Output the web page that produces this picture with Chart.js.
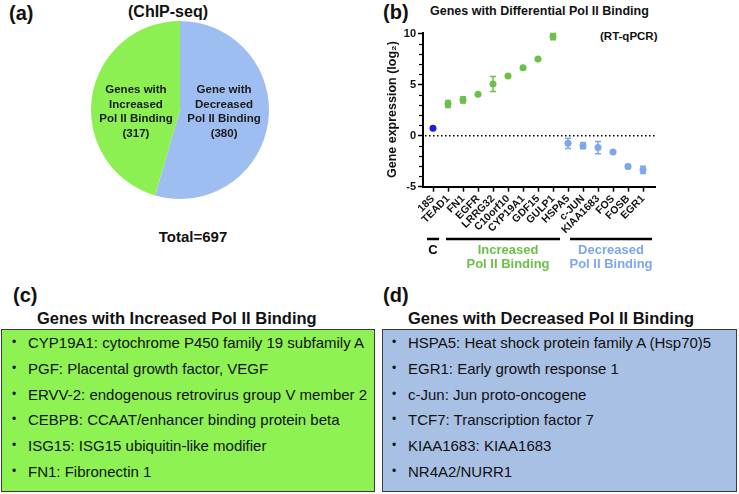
<!DOCTYPE html>
<html>
<head>
<meta charset="utf-8">
<script src="https://cdn.jsdelivr.net/npm/chart.js@4"></script>
<style>
body { margin:0; background:#fff; font-family:"Liberation Sans", Arial, sans-serif; color:#111; }
#page { position:relative; width:739px; height:494px; overflow:hidden; }
.abs { position:absolute; white-space:nowrap; line-height:1; font-weight:bold; }
.plabel { font-size:20px; }
.box { position:absolute; top:329px; height:163px; border:1px solid #3a3a3a; box-sizing:border-box; padding-top:0; }
.box ul { list-style:none; margin:0; padding:0; }
.box li { height:25.8px; line-height:25.8px; font-size:15px; position:relative; white-space:nowrap; }
.box li:before { content:"\2022"; position:absolute; left:-16px; font-size:12px; }
</style>
</head>
<body>
<div id="page">
  <div class="abs plabel" style="left:9px; top:3px;">(a)</div>
  <div class="abs" style="left:168px; top:4px; font-size:16px; transform:translateX(-50%);">(ChIP-seq)</div>
  <canvas id="pie" width="178" height="178" style="position:absolute; left:91px; top:21px;"></canvas>
  <div class="abs" style="left:193px; top:229px; font-size:15px; transform:translateX(-50%);">Total=697</div>

  <div class="abs plabel" style="left:383px; top:2px;">(b)</div>
  <div class="abs" style="left:430px; top:5px; font-size:12.5px;">Genes with Differential Pol II Binding</div>
  <div class="abs" style="left:600px; top:31px; font-size:11.5px;">(RT-qPCR)</div>
  <canvas id="expr" width="369" height="258" style="position:absolute; left:370px; top:22px;"></canvas>

  <div class="abs plabel" style="left:13px; top:285px;">(c)</div>
  <div class="abs" style="left:37px; top:310px; font-size:16.5px;">Genes with Increased Pol II Binding</div>
  <div class="box" style="left:1px; width:374px; background:#8ef252;">
    <ul id="incList" style="padding-left:26px;"></ul>
  </div>

  <div class="abs plabel" style="left:383px; top:285px;">(d)</div>
  <div class="abs" style="left:408px; top:310px; font-size:16.5px;">Genes with Decreased Pol II Binding</div>
  <div class="box" style="left:382px; width:355px; background:#a8c0e4;">
    <ul id="decList" style="padding-left:25px;"></ul>
  </div>
</div>

<script>
const FONT = '"Liberation Sans", "DejaVu Sans", Arial, sans-serif';

// panel (a) - ChIP-seq counts
const pieCounts = [380, 317];
const pieNames = [['Gene with', 'Decreased', 'Pol II Binding'], ['Genes with', 'Increased', 'Pol II Binding']];
const pieColors = ['#9ebdf1', '#8df052'];

// panel (b) - RT-qPCR log2 expression
const genes = ['18S', 'TEAD1', 'FN1', 'EGFR', 'LRRG32', 'C10orf10', 'CYP19A1', 'GDF15', 'GULP1',
               'HSPA5', 'c-JUN', 'KIAA1683', 'FOS', 'FOSB', 'EGR1'];
const expr    = [0.72, 3.1, 3.5, 4.05, 5.05, 5.84, 6.65, 7.5, 9.7, -0.75, -0.98, -1.17, -1.6, -3.03, -3.35];
const exprErr = [0, 0.35, 0.3, 0.1, 0.73, 0.1, 0.05, 0.05, 0.3, 0.5, 0.3, 0.6, 0.1, 0.2, 0.35];
const yTicks = [-5, 0, 5, 10];
const groupNames = [['C'], ['Increased', 'Pol II Binding'], ['Decreased', 'Pol II Binding']];
const groupFirst = [0, 1, 9];
const groupLast  = [0, 8, 14];
const groupPointColors = ['#1c1ce0', '#6cc04a', '#7ea6ea'];
const groupTextColors  = ['#000', '#6cc04a', '#7ea6ea'];

// panels (c) and (d)
const incGenes = ['CYP19A1: cytochrome P450 family 19 subfamily A', 'PGF: Placental growth factor, VEGF',
  'ERVV-2: endogenous retrovirus group V member 2', 'CEBPB: CCAAT/enhancer binding protein beta',
  'ISG15: ISG15 ubiquitin-like modifier', 'FN1: Fibronectin 1'];
const decGenes = ['HSPA5: Heat shock protein family A (Hsp70)5', 'EGR1: Early growth response 1',
  'c-Jun: Jun proto-oncogene', 'TCF7: Transcription factor 7', 'KIAA1683: KIAA1683', 'NR4A2/NURR1'];

function fillList(id, items) {
  const ul = document.getElementById(id);
  items.forEach(t => { const li = document.createElement('li'); li.textContent = t; ul.appendChild(li); });
}
fillList('incList', incGenes);
fillList('decList', decGenes);

// text inside pie slices
const pieText = {
  id: 'pieText',
  afterDatasetsDraw(chart) {
    const ctx = chart.ctx;
    chart.getDatasetMeta(0).data.forEach((arc, i) => {
      const p = arc.getProps(['x', 'y', 'startAngle', 'endAngle', 'outerRadius'], true);
      const mid = (p.startAngle + p.endAngle) / 2;
      const tx = p.x + Math.cos(mid) * p.outerRadius * 0.5;
      const lines = pieNames[i].concat('(' + pieCounts[i] + ')');
      ctx.save();
      ctx.font = 'bold 11.5px ' + FONT;
      ctx.textAlign = 'center';
      ctx.textBaseline = 'middle';
      ctx.fillStyle = '#1a1a1a';
      lines.forEach((l, k) => ctx.fillText(l, tx, p.y + 2 + (k - 1.5) * 14.5));
      ctx.restore();
    });
  }
};

new Chart(document.getElementById('pie'), {
  type: 'pie',
  data: { labels: pieNames.map(n => n.join(' ')), datasets: [{ data: pieCounts, backgroundColor: pieColors, borderWidth: 0 }] },
  options: {
    responsive: false, animation: false,
    plugins: { legend: { display: false }, tooltip: { enabled: false } }
  },
  plugins: [pieText]
});

// error bars, zero line, minor ticks, group bars
const exprExtras = {
  id: 'exprExtras',
  beforeDatasetsDraw(chart) {
    const { ctx, scales: { x, y } } = chart;
    ctx.save();
    // dotted zero line
    ctx.strokeStyle = '#000';
    ctx.lineWidth = 1.5;
    ctx.setLineDash([1.5, 2.5]);
    ctx.beginPath();
    ctx.moveTo(x.left + 2, y.getPixelForValue(0));
    ctx.lineTo(x.right, y.getPixelForValue(0));
    ctx.stroke();
    ctx.setLineDash([]);
    // error bars
    chart.data.datasets.forEach(ds => {
      ctx.strokeStyle = ds.backgroundColor;
      ctx.lineWidth = 1.5;
      ds.data.forEach(p => {
        if (!p.e) return;
        const px = x.getPixelForValue(p.x);
        const top = y.getPixelForValue(p.y + p.e), bot = y.getPixelForValue(p.y - p.e);
        ctx.beginPath();
        ctx.moveTo(px, top); ctx.lineTo(px, bot);
        ctx.moveTo(px - 3, top); ctx.lineTo(px + 3, top);
        ctx.moveTo(px - 3, bot); ctx.lineTo(px + 3, bot);
        ctx.stroke();
      });
    });
    ctx.restore();
  },
  afterDraw(chart) {
    const { ctx, scales: { x, y } } = chart;
    ctx.save();
    // minor y ticks
    ctx.strokeStyle = '#000';
    ctx.lineWidth = 1.2;
    for (let v = -5; v <= 10; v++) {
      if (v % 5 === 0) continue;
      const py = Math.round(y.getPixelForValue(v)) + 0.5;
      ctx.beginPath(); ctx.moveTo(x.left - 4, py); ctx.lineTo(x.left, py); ctx.stroke();
    }
    // group bars and labels
    const barY = 217;
    groupNames.forEach((lines, g) => {
      const pad0 = g === 0 ? 6 : (g === 1 ? 2 : -2);
      const pad1 = g === 0 ? 6 : (g === 1 ? 7 : 9);
      const x0 = x.getPixelForValue(groupFirst[g]) - pad0;
      const x1 = x.getPixelForValue(groupLast[g]) + pad1;
      ctx.strokeStyle = '#000';
      ctx.lineWidth = 2.5;
      ctx.beginPath(); ctx.moveTo(x0, barY); ctx.lineTo(x1, barY); ctx.stroke();
      ctx.fillStyle = groupTextColors[g];
      ctx.font = 'bold 13px ' + FONT;
      ctx.textAlign = 'center';
      ctx.textBaseline = 'middle';
      const cx = g === 0 ? x.getPixelForValue(0) : (x0 + x1) / 2 + (g === 1 ? 5 : 0);
      lines.forEach((l, k) => ctx.fillText(l, cx, barY + 11 + k * 14));
    });
    ctx.restore();
  }
};

const datasets = groupNames.map((n, g) => {
  const pts = [];
  for (let i = groupFirst[g]; i <= groupLast[g]; i++) pts.push({ x: i, y: expr[i], e: exprErr[i] });
  return { data: pts, backgroundColor: groupPointColors[g], borderColor: groupPointColors[g],
           pointRadius: 3.5, pointBorderWidth: 0, showLine: false };
});

new Chart(document.getElementById('expr'), {
  type: 'scatter',
  data: { datasets },
  options: {
    responsive: false, animation: false,
    layout: { padding: { top: 10.5, right: 84, left: 0, bottom: 0 } },
    plugins: { legend: { display: false }, tooltip: { enabled: false } },
    scales: {
      x: {
        type: 'linear', min: -0.667, max: 14.8,
        afterBuildTicks: s => { s.ticks = genes.map((g, i) => ({ value: i })); },
        afterFit: s => { s.height = 93.3; },
        ticks: { callback: v => genes[v], minRotation: 45, maxRotation: 45, autoSkip: false, padding: 1,
                 color: '#111', font: { family: FONT, weight: 'bold', size: 10.5 } },
        grid: { drawOnChartArea: false, tickLength: 5, tickColor: '#000', tickWidth: 1.5 },
        border: { color: '#000', width: 2 }
      },
      y: {
        min: -5, max: 10.1,
        afterBuildTicks: s => { s.ticks = yTicks.map(v => ({ value: v })); },
        afterFit: s => { s.width = 53; },
        ticks: { padding: 2, color: '#111', font: { family: FONT, weight: 'bold', size: 11 } },
        grid: { drawOnChartArea: false, tickLength: 5, tickColor: '#000', tickWidth: 1.5 },
        border: { color: '#000', width: 2 },
        title: { display: true, text: 'Gene expression (log\u2082)', color: '#111',
                 padding: { top: 15, bottom: 0 }, font: { family: FONT, weight: 'bold', size: 12.5 } }
      }
    }
  },
  plugins: [exprExtras]
});
</script>
</body>
</html>
